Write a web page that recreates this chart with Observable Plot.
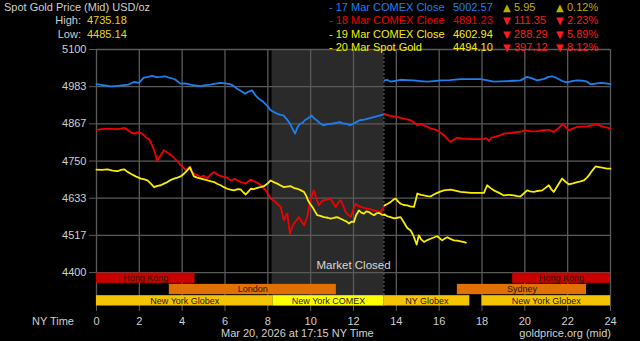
<!DOCTYPE html>
<html><head><meta charset="utf-8">
<script src="https://cdn.jsdelivr.net/npm/d3@7"></script>
<script src="https://cdn.jsdelivr.net/npm/@observablehq/plot@0.6"></script>
<style>
html,body{margin:0;padding:0;background:#000;}
#wrap{position:relative;width:640px;height:341px;background:#000;overflow:hidden;font-family:"Liberation Sans",Arial,sans-serif;font-size:11px;}
#wrap svg{position:absolute;left:0;top:0;}
.t{position:absolute;white-space:nowrap;line-height:13px;}
.h{font-size:11px;line-height:13px;}
</style></head><body><div id="wrap"></div>
<script>
// ---------- data ----------
const xTickValues = [0,2,4,6,8,10,12,14,16,18,20,22,24];
const yTickValues = [4400, 4516.67, 4633.33, 4750, 4866.67, 4983.33, 5100];
const yTickLabels = ["4400","4517","4633","4750","4867","4983","5100"];

// 17 Mar series (blue): morning part and evening part, [hour, price]
const blueAM = [[0,4991],[0.3,4988],[0.67,4984],[1.0,4986],[1.27,4988],[1.5,4990],[1.75,4998],[1.98,4995],[2.21,5012],[2.4,5014],[2.6,5017],[2.8,5013],[2.99,5014],[3.2,5016],[3.38,5012],[3.55,5009],[3.69,5005],[3.92,4993],[4.15,4994],[4.39,4990],[4.6,4987],[4.85,4985],[5.1,4988],[5.32,4990],[5.55,4993],[5.78,4995],[6.0,4994],[6.25,4991],[6.4,4986],[6.56,4977],[6.75,4970],[6.94,4961],[7.1,4968],[7.26,4972],[7.38,4960],[7.49,4951],[7.65,4942],[7.8,4935],[8.03,4919],[8.11,4911],[8.25,4905],[8.42,4899],[8.6,4895],[8.73,4893],[8.9,4880],[9.04,4867],[9.15,4852],[9.27,4836],[9.38,4855],[9.5,4867],[9.62,4870],[9.73,4878],[9.9,4885],[10.05,4893],[10.15,4884],[10.28,4878],[10.45,4868],[10.59,4862],[10.8,4866],[10.98,4867],[11.2,4870],[11.36,4872],[11.5,4868],[11.67,4867],[11.85,4862],[11.98,4867],[12.15,4873],[12.29,4878],[12.5,4880],[12.68,4883],[12.9,4887],[13.07,4890],[13.25,4893],[13.45,4897]];
const bluePM = [[13.45,5003],[13.57,5005],[13.75,4999],[14.0,5002],[14.2,5005],[14.5,5004],[14.82,5003],[15.1,5001],[15.45,4999],[15.75,5001],[16.07,5003],[16.5,5004],[17.0,5007],[17.5,5007],[17.93,5007],[18.2,5004],[18.55,4999],[18.85,5000],[19.18,5001],[19.5,5002],[19.8,5003],[20.1,5014],[20.3,5010],[20.58,5003],[20.9,5008],[21.1,5014],[21.28,5016],[21.5,5010],[21.75,5001],[21.98,4997],[22.2,5001],[22.44,5003],[22.7,5002],[22.91,4999],[23.07,4991],[23.3,4993],[23.54,4995],[23.8,4994],[24,4991]];

// 18 Mar series (red)
const redAM = [[0,4848],[0.25,4850],[0.51,4852],[0.75,4851],[0.98,4850],[1.15,4852],[1.29,4854],[1.4,4850],[1.52,4844],[1.75,4836],[1.9,4840],[2.07,4838],[2.2,4832],[2.3,4825],[2.45,4818],[2.53,4810],[2.69,4784],[2.84,4752],[3.0,4768],[3.15,4784],[3.28,4778],[3.39,4773],[3.55,4765],[3.7,4754],[3.8,4748],[3.93,4737],[4.05,4730],[4.17,4721],[4.32,4731],[4.45,4718],[4.55,4710],[4.7,4706],[4.87,4700],[5.0,4704],[5.18,4695],[5.3,4706],[5.49,4716],[5.6,4710],[5.72,4705],[5.95,4700],[6.1,4698],[6.27,4689],[6.45,4694],[6.58,4689],[6.75,4684],[6.97,4679],[7.1,4687],[7.2,4692],[7.43,4684],[7.55,4680],[7.67,4674],[7.9,4658],[8.0,4648],[8.13,4632],[8.25,4627],[8.37,4621],[8.5,4612],[8.6,4606],[8.75,4564],[8.85,4580],[8.91,4585],[9.03,4522],[9.12,4540],[9.22,4554],[9.35,4565],[9.45,4574],[9.58,4560],[9.69,4548],[9.78,4565],[9.84,4574],[9.96,4621],[10.05,4640],[10.15,4658],[10.28,4630],[10.39,4611],[10.5,4622],[10.62,4627],[10.8,4630],[10.93,4632],[11.05,4618],[11.17,4606],[11.3,4620],[11.4,4627],[11.52,4610],[11.63,4590],[11.75,4582],[11.87,4574],[12.0,4600],[12.1,4616],[12.2,4610],[12.33,4606],[12.5,4603],[12.65,4601],[12.8,4598],[12.96,4595],[13.1,4593],[13.27,4590],[13.45,4610]];
const redPM = [[13.45,4897],[13.7,4892],[13.89,4890],[14.1,4887],[14.35,4883],[14.5,4881],[14.67,4878],[14.85,4870],[14.98,4862],[15.15,4866],[15.29,4862],[15.45,4858],[15.6,4852],[15.75,4850],[15.91,4846],[16.05,4840],[16.22,4831],[16.4,4818],[16.53,4810],[16.7,4818],[16.85,4823],[17.1,4820],[17.47,4819],[17.8,4819],[18.09,4819],[18.2,4822],[18.32,4813],[18.45,4824],[18.55,4825],[18.8,4830],[19.02,4836],[19.3,4838],[19.64,4841],[19.85,4843],[20.03,4846],[20.3,4843],[20.58,4844],[20.85,4847],[21.12,4848],[21.35,4841],[21.55,4852],[21.74,4865],[21.9,4858],[22.05,4846],[22.25,4852],[22.44,4857],[22.7,4858],[22.91,4859],[23.15,4862],[23.38,4865],[23.55,4860],[23.69,4857],[23.85,4855],[24,4852]];

// 19 Mar series (yellow)
const yellowAM = [[0,4723],[0.25,4722],[0.51,4724],[0.75,4720],[0.98,4718],[1.15,4722],[1.29,4724],[1.45,4716],[1.6,4710],[1.83,4702],[2.07,4695],[2.2,4693],[2.38,4689],[2.55,4678],[2.69,4668],[2.85,4672],[3.0,4674],[3.15,4679],[3.31,4684],[3.45,4690],[3.62,4695],[3.78,4698],[3.93,4702],[4.05,4708],[4.17,4716],[4.28,4724],[4.37,4731],[4.45,4716],[4.55,4702],[4.7,4698],[4.87,4695],[5.05,4692],[5.18,4689],[5.35,4686],[5.49,4684],[5.65,4678],[5.8,4674],[5.95,4668],[6.11,4663],[6.25,4660],[6.42,4658],[6.6,4662],[6.73,4661],[6.85,4652],[6.97,4645],[7.1,4655],[7.2,4663],[7.35,4662],[7.51,4666],[7.65,4668],[7.82,4671],[8.0,4680],[8.13,4689],[8.3,4683],[8.44,4679],[8.6,4673],[8.75,4668],[8.9,4670],[9.07,4671],[9.2,4666],[9.38,4663],[9.55,4658],[9.69,4653],[9.8,4640],[9.87,4627],[9.98,4615],[10.08,4606],[10.2,4592],[10.31,4580],[10.45,4578],[10.62,4574],[10.8,4572],[10.93,4569],[11.1,4572],[11.24,4574],[11.4,4569],[11.55,4564],[11.68,4560],[11.79,4554],[11.9,4560],[12.02,4559],[12.12,4580],[12.25,4595],[12.37,4588],[12.49,4585],[12.6,4592],[12.72,4590],[12.85,4584],[12.96,4580],[13.08,4586],[13.19,4587],[13.32,4582],[13.45,4580]];
const yellowPM = [[13.45,4611],[13.6,4616],[13.73,4621],[13.89,4630],[13.97,4632],[14.1,4622],[14.2,4616],[14.35,4612],[14.51,4611],[14.65,4608],[14.82,4606],[14.9,4625],[14.98,4648],[15.15,4644],[15.29,4642],[15.45,4640],[15.6,4639],[15.75,4645],[15.91,4650],[16.05,4654],[16.22,4658],[16.53,4660],[16.75,4657],[17.0,4653],[17.5,4650],[18.09,4650],[18.24,4674],[18.4,4665],[18.55,4658],[18.8,4650],[19.02,4642],[19.25,4644],[19.49,4642],[19.65,4640],[19.8,4639],[19.95,4648],[20.11,4658],[20.25,4655],[20.42,4653],[20.6,4656],[20.81,4658],[20.95,4665],[21.12,4674],[21.25,4660],[21.35,4653],[21.55,4675],[21.74,4695],[21.9,4685],[22.05,4677],[22.25,4680],[22.44,4684],[22.6,4686],[22.75,4689],[22.9,4698],[22.99,4705],[23.15,4720],[23.3,4733],[23.45,4731],[23.61,4729],[23.84,4726],[24,4726]];

// 20 Mar spot gold (yellow, today so far)
const spotToday = [[13.45,4582],[13.6,4576],[13.73,4574],[13.89,4570],[14.05,4572],[14.2,4574],[14.35,4558],[14.51,4540],[14.67,4532],[14.8,4515],[14.95,4488],[15.05,4517],[15.15,4505],[15.29,4496],[15.45,4502],[15.6,4506],[15.75,4510],[15.91,4514],[16.05,4506],[16.14,4501],[16.25,4506],[16.38,4511],[16.55,4505],[16.69,4501],[16.85,4500],[17.0,4498],[17.12,4496],[17.25,4494]];

// market sessions (hours, NY time) and their row in the band strip
const sessionNames  = ["Hong Kong","Hong Kong","London","Sydney","New York Globex","New York COMEX","NY Globex","New York Globex"];
const sessionStart  = [0, 19.43, 3.4, 16.85, 0, 8.25, 13.42, 18.0];
const sessionEnd    = [4.6, 24, 11.2, 22.88, 8.25, 13.42, 17.43, 24];
const sessionRow    = [0, 0, 1, 1, 2, 2, 2, 2];
const sessionKind   = ["hk","hk","eu","eu","globex","comex","globex","globex"];
const closedStart = 8.2, closedEnd = 13.42;

// header / legend texts
const titleText = "Spot Gold Price (Mid) USD/oz";
const highValue = "4735.18", lowValue = "4485.14";
const legendLabels = ["17 Mar COMEX Close","18 Mar COMEX Close","19 Mar COMEX Close","20 Mar Spot Gold"];
const legendValues = ["5002.57","4891.23","4602.94","4494.10"];
const legendChanges = ["5.95","111.35","288.29","397.12"];
const legendPercents = ["0.12%","2.23%","5.89%","8.12%"];
const legendUp = [true,false,false,false];
const captionText = "Mar 20, 2026 at 17:15 NY Time";
const sourceText = "goldprice.org (mid)";

// ---------- styles ----------
const C = {blue:"#1a80f0", red:"#f20000", yellow:"#f8ec00", grid:"#5a5a5a", shade:"#2a2a2a", text:"#cfcfcf"};
const bandFill = {hk:"#c80000", eu:"#e07000", globex:"#f5c400", comex:"#ffff00"};
const legendColors = [C.blue, C.red, C.yellow, C.yellow];

// ---------- chart ----------
const yMin = 4293.5, yMax = 5100, bandBase = 4400;
const rowH = (bandBase - yMin) / 3;
const sessions = sessionNames.map((name,i)=>({name, start:sessionStart[i], end:sessionEnd[i], row:sessionRow[i], kind:sessionKind[i]}));
const toObj = a => a.map(([h,v])=>({h,v}));
const lineOpts = color => ({x:"h", y:"v", stroke:color, strokeWidth:1.8, strokeLinejoin:"round"});

const chart = Plot.plot({
  width:640, height:341, marginTop:49, marginBottom:35, marginLeft:96, marginRight:30,
  x:{domain:[0,24]}, y:{domain:[yMin,yMax]},
  style:{background:"#000", color:C.text, fontFamily:"Liberation Sans, Arial, sans-serif", fontSize:"11px"},
  marks:[
    Plot.rect([{a:closedStart,b:closedEnd}], {x1:"a", x2:"b", fill:C.shade}),
    Plot.gridY({ticks:yTickValues, stroke:C.grid, strokeOpacity:1, strokeWidth:1.3}),
    Plot.gridX({ticks:xTickValues, stroke:C.grid, strokeOpacity:1, strokeWidth:1.3}),
    Plot.ruleX([closedEnd], {stroke:"#6a6a6a", strokeDasharray:"2,2"}),
    Plot.rect(sessions, {x1:"start", x2:"end", y1:d=>bandBase - d.row*rowH, y2:d=>bandBase-(d.row+1)*rowH, fill:d=>bandFill[d.kind], insetTop:0.5, insetBottom:0.5}),
    Plot.text(sessions, {x:d=>(d.start+d.end)/2, y:d=>bandBase-(d.row+0.5)*rowH, text:"name", fill:"#2a1a00", fontSize:9}),
    Plot.text(["Market Closed"], {x:()=>12, y:()=>bandBase, dy:-7, text:d=>d, fill:"#d8d8d8", fontSize:11.5}),
    Plot.axisY({ticks:yTickValues, tickFormat:d=>yTickLabels[yTickValues.indexOf(d)], tickSize:7, tickPadding:3, stroke:C.grid, fill:C.text, label:null}),
    Plot.axisX({ticks:xTickValues, tickFormat:d=>String(d), tickSize:5, tickPadding:6, stroke:C.grid, fill:C.text, label:null}),
    Plot.line(toObj(blueAM), lineOpts(C.blue)),
    Plot.line(toObj(bluePM), lineOpts(C.blue)),
    Plot.line(toObj(redAM), lineOpts(C.red)),
    Plot.line(toObj(redPM), lineOpts(C.red)),
    Plot.line(toObj(yellowAM), lineOpts(C.yellow)),
    Plot.line(toObj(yellowPM), lineOpts(C.yellow)),
    Plot.line(toObj(spotToday), lineOpts(C.yellow))
  ]
});
const wrap = document.getElementById("wrap");
wrap.appendChild(chart);

function addText(txt, left, top, color, extra, cls){
  const s = document.createElement("span");
  s.className = "t" + (cls ? " " + cls : ""); s.textContent = txt;
  s.style.left = left+"px"; s.style.top = top+"px"; s.style.color = color;
  if (extra) Object.assign(s.style, extra);
  wrap.appendChild(s); return s;
}
addText(titleText, 4, 0.5, C.text, null, "h");
addText("High:", 0, 14, C.text, {width:"81px", textAlign:"right"}, "h");
addText(highValue, 87, 14, "#e8d800", null, "h");
addText("Low:", 0, 27.5, C.text, {width:"81px", textAlign:"right"}, "h");
addText(lowValue, 87, 27.5, "#e8d800", null, "h");
const rowTops = [0.5, 14, 27.5, 41];
legendLabels.forEach((lab,i)=>{
  const top = rowTops[i];
  const col = legendColors[i];
  const chg = legendUp[i] ? "#bfae00" : "#ff1a1a";
  const tri = legendUp[i] ? "\u25B2" : "\u25BC";
  addText("- " + lab, 329, top, col, null, "h");
  addText(legendValues[i], 453, top, col, null, "h");
  addText(tri, 503, top, chg, {fontFamily:"DejaVu Sans", fontSize:"10px", lineHeight:"13px"});
  addText(legendChanges[i], 514, top, chg, null, "h");
  addText(tri, 556, top, chg, {fontFamily:"DejaVu Sans", fontSize:"10px", lineHeight:"13px"});
  addText(legendPercents[i], 567, top, chg, null, "h");
});
addText("NY Time", 32, 315, C.text);
addText(captionText, 221, 327, C.text);
addText(sourceText, 0, 327, C.text, {width:"611px", textAlign:"right"});
</script></body></html>
